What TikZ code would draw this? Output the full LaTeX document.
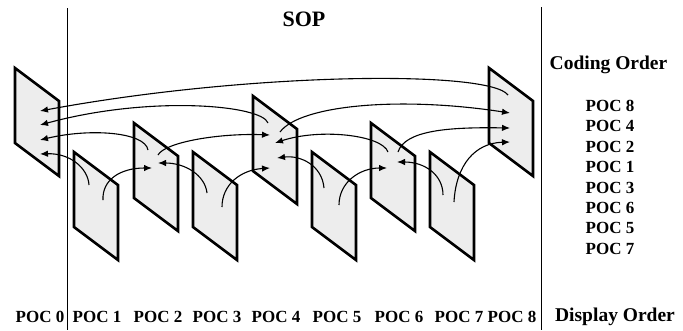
\documentclass[tikz,border=0pt]{standalone}
\usepackage{fontspec}
\setmainfont{Liberation Serif}
\usetikzlibrary{arrows.meta}
\begin{document}
\begin{tikzpicture}[x=1pt,y=-1pt,
  frame/.style={draw=black, line width=2.6pt, fill=black!7, line join=miter},
  refarrow/.style={-{Latex[length=8pt,width=6.5pt]}, line width=1.1pt},
  sepline/.style={line width=0.9pt},
  lab/.style={font=\fontsize{17}{20}\selectfont\bfseries, inner sep=0pt},
  head/.style={font=\fontsize{19.5}{22}\selectfont\bfseries, inner sep=0pt},
  title/.style={font=\fontsize{22}{24}\selectfont\bfseries, inner sep=0pt}]
\useasboundingbox (0,0) rectangle (683,330);
% separators
\coordinate (l1) at (67,8);  \coordinate (l2) at (67,330);
\coordinate (r1) at (541,7); \coordinate (r2) at (541,330);
\draw[sepline] (l1) -- (l2);
\draw[sepline] (r1) -- (r2);
% frames
\foreach \i/\x/\y in {0/15/68, 1/74/152, 2/134/123, 3/193/152, 4/253/96, 5/312/152, 6/371/123, 7/430/152, 8/489/68}
  \draw[frame] (\x,\y) coordinate (F\i) -- ++(44,33) -- ++(0,75) -- ++(-44,-33) -- cycle;
% arrow end points
\coordinate (s80) at (508,95);  \coordinate (t80) at (40,111);
\coordinate (s40) at (268,123); \coordinate (t40) at (40,125);
\coordinate (s20) at (148,150); \coordinate (t20) at (40,140);
\coordinate (s10) at (89,185);  \coordinate (t10) at (40,154);
\coordinate (s12) at (103,200); \coordinate (t12) at (152,168);
\coordinate (s24) at (158,155); \coordinate (t24) at (270,135);
\coordinate (s32) at (207,193); \coordinate (t32) at (158,163);
\coordinate (s34) at (222,207); \coordinate (t34) at (270,168);
\coordinate (s48) at (280,132); \coordinate (t48) at (510,113);
\coordinate (s64) at (388,152); \coordinate (t64) at (275,143);
\coordinate (s54) at (324,188); \coordinate (t54) at (277,158);
\coordinate (s56) at (339,205); \coordinate (t56) at (387,168);
\coordinate (s68) at (398,152); \coordinate (t68) at (510,128);
\coordinate (s76) at (443,195); \coordinate (t76) at (397,162);
\coordinate (s78) at (454,202); \coordinate (t78) at (510,142);
% references
\draw[refarrow] (s80) .. controls (490,70) and (250,72) .. (t80);
\draw[refarrow] (s40) .. controls (262,105) and (150,95) .. (t40);
\draw[refarrow] (s20) .. controls (145,132) and (90,128) .. (t20);
\draw[refarrow] (s10) .. controls (88,168) and (70,153) .. (t10);
\draw[refarrow] (s12) .. controls (102,180) and (120,168) .. (t12);
\draw[refarrow] (s24) .. controls (165,142) and (220,133) .. (t24);
\draw[refarrow] (s32) .. controls (205,175) and (185,163) .. (t32);
\draw[refarrow] (s34) .. controls (222,185) and (240,170) .. (t34);
\draw[refarrow] (s48) .. controls (300,105) and (400,96) .. (t48);
\draw[refarrow] (s64) .. controls (382,135) and (320,128) .. (t64);
\draw[refarrow] (s54) .. controls (322,165) and (300,155) .. (t54);
\draw[refarrow] (s56) .. controls (339,182) and (360,168) .. (t56);
\draw[refarrow] (s68) .. controls (405,130) and (450,127) .. (t68);
\draw[refarrow] (s76) .. controls (443,175) and (425,162) .. (t76);
\draw[refarrow] (s78) .. controls (456,165) and (475,143) .. (t78);
% texts
\node[title] (sop) at (304,19.5) {SOP};
\node[head] (coding) at (608.5,65) {Coding Order};
\foreach \t [count=\k from 0] in {8,4,2,1,3,6,5,7}
  \node[lab] (c\k) at (610,{106+20.4*\k}) {POC \t};
\foreach \t/\x in {0/40,1/97,2/158,3/217,4/276,5/337,6/399,7/459,8/512}
  \node[lab] (d\t) at (\x,317) {POC \t};
\node[head] (display) at (615,317) {Display Order};
\end{tikzpicture}
\end{document}
